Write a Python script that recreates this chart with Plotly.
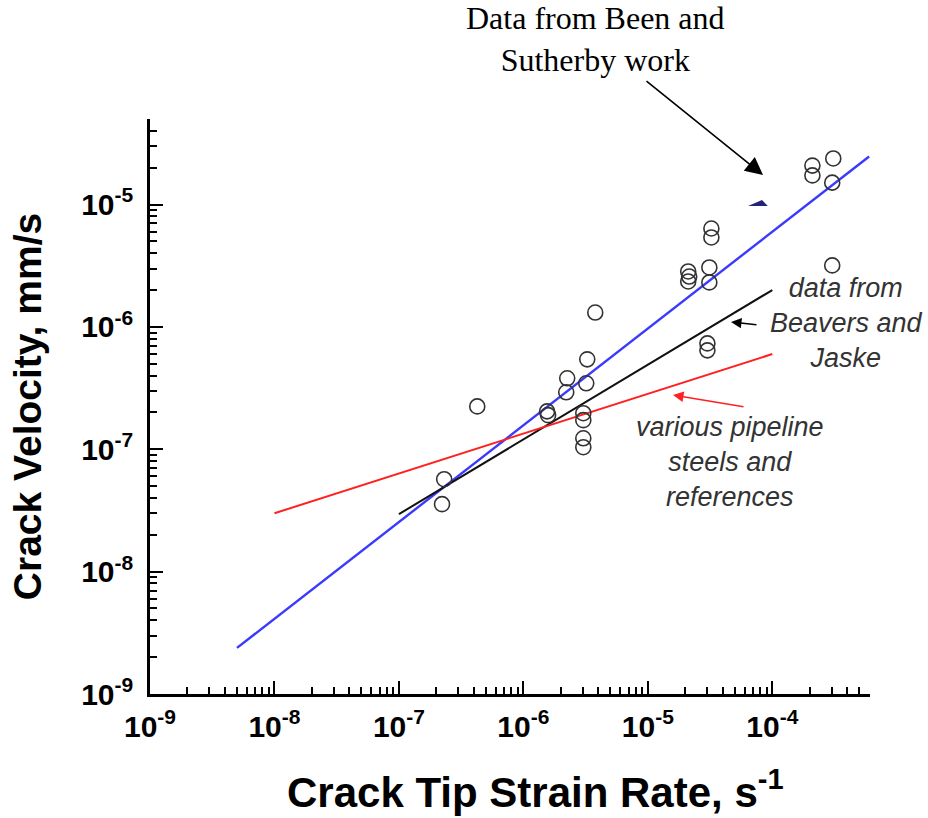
import plotly.graph_objects as go

# ---- data ----
strain_rate = [2.31e-7, 2.22e-7, 4.26e-7, 1.55e-6, 1.58e-6, 2.25e-6, 2.21e-6,
               3.26e-6, 3.20e-6, 3.03e-6, 3.03e-6, 3.03e-6, 3.03e-6, 3.78e-6,
               2.11e-5, 2.15e-5, 2.11e-5, 3.12e-5, 3.12e-5, 3.24e-5, 3.24e-5,
               3.01e-5, 3.01e-5, 2.10e-4, 2.10e-4, 3.09e-4, 3.03e-4, 3.03e-4]
crack_velocity = [5.69e-8, 3.56e-8, 2.24e-7, 2.04e-7, 1.90e-7, 3.80e-7, 2.92e-7,
                  5.43e-7, 3.46e-7, 1.97e-7, 1.73e-7, 1.23e-7, 1.04e-7, 1.31e-6,
                  2.84e-6, 2.58e-6, 2.35e-6, 3.06e-6, 2.31e-6, 6.37e-6, 5.38e-6,
                  7.33e-7, 6.43e-7, 2.08e-5, 1.73e-5, 2.38e-5, 1.51e-5, 3.18e-6]

been_fit_x = [5e-9, 6e-4]
been_fit_y = [2.38e-9, 2.47e-5]
beavers_x = [1e-7, 1e-4]
beavers_y = [2.95e-8, 2.0e-6]
pipeline_x = [1e-8, 1e-4]
pipeline_y = [3.0e-8, 6.0e-7]

x_major = [1e-9, 1e-8, 1e-7, 1e-6, 1e-5, 1e-4]
x_major_text = ["10<sup>-9</sup>", "10<sup>-8</sup>", "10<sup>-7</sup>",
                "10<sup>-6</sup>", "10<sup>-5</sup>", "10<sup>-4</sup>"]
y_major = [1e-9, 1e-8, 1e-7, 1e-6, 1e-5]
y_major_text = ["10<sup>-9</sup>", "10<sup>-8</sup>", "10<sup>-7</sup>",
                "10<sup>-6</sup>", "10<sup>-5</sup>"]

x_minor = [m * 10.0 ** e for e in range(-9, -3) for m in range(2, 10)]
y_minor = [m * 10.0 ** e for e in range(-9, -4) for m in range(2, 10)]

fig = go.Figure()

fig.add_trace(go.Scatter(x=been_fit_x, y=been_fit_y, mode="lines",
                         line=dict(color="#3a3aff", width=2.4), name="Been and Sutherby fit"))
fig.add_trace(go.Scatter(x=beavers_x, y=beavers_y, mode="lines",
                         line=dict(color="#111111", width=2), name="Beavers and Jaske"))
fig.add_trace(go.Scatter(x=pipeline_x, y=pipeline_y, mode="lines",
                         line=dict(color="#ff2020", width=2), name="various pipeline steels"))
fig.add_trace(go.Scatter(x=strain_rate, y=crack_velocity, mode="markers",
                         marker=dict(symbol="circle-open", size=15, color="#333333",
                                     line=dict(width=1.6)),
                         name="Been and Sutherby data"))

tickfont = dict(family="Liberation Sans, Arial, sans-serif", size=30, color="black", weight="bold")
titlefont = dict(family="Liberation Sans, Arial, sans-serif", size=39, color="black", weight="bold")

fig.update_xaxes(type="log", range=[-9, -3.215], showline=True, linewidth=2.5,
                 linecolor="black", showgrid=False, zeroline=False,
                 ticks="inside", ticklen=13, tickwidth=2, tickcolor="black",
                 tickmode="array", tickvals=x_major, ticktext=x_major_text,
                 tickfont=tickfont, ticklabelstandoff=4,
                 minor=dict(tickmode="array", tickvals=x_minor, ticks="inside",
                            ticklen=7, tickwidth=1.5, tickcolor="black", showgrid=False))
fig.update_yaxes(type="log", range=[-9, -4.301], showline=True, linewidth=2.5,
                 linecolor="black", showgrid=False, zeroline=False,
                 ticks="inside", ticklen=13, tickwidth=2, tickcolor="black",
                 tickmode="array", tickvals=y_major, ticktext=y_major_text,
                 tickfont=tickfont, ticklabelstandoff=8,
                 minor=dict(tickmode="array", tickvals=y_minor, ticks="inside",
                            ticklen=7, tickwidth=1.5, tickcolor="black", showgrid=False),
                 title=dict(text="Crack Velocity, mm/s", font=titlefont, standoff=28))

sans_it = dict(family="Liberation Sans, Arial, sans-serif", size=27, color="#333333", style="italic")

annotations = [
    dict(text="Crack Tip Strain Rate, s<sup><span style='font-size:29px'>-1</span></sup>",
         x=0.536, y=-0.1655, xref="paper", yref="paper", showarrow=False,
         xanchor="center", yanchor="middle",
         font=dict(family="Liberation Sans, Arial, sans-serif", size=42, color="black",
                   weight="bold")),
    dict(text="Data from Been and<br>Sutherby work", x=0.6194, y=1.14, xref="paper", yref="paper",
         showarrow=False, xanchor="center", yanchor="middle",
         font=dict(family="Liberation Serif, Times New Roman, serif", size=32, color="black")),
    dict(text="", x=0.8514, y=0.9026, xref="paper", yref="paper", showarrow=True,
         ax=-118, ay=-95, axref="pixel", ayref="pixel", arrowhead=2, arrowsize=2.2,
         arrowwidth=1.6, arrowcolor="black", standoff=0),
    dict(text="data from<br>Beavers and<br>Jaske", x=0.9667, y=0.645, xref="paper", yref="paper",
         showarrow=False, xanchor="center", yanchor="middle", font=sans_it),
    dict(text="", x=0.8069, y=0.647, xref="paper", yref="paper", showarrow=True,
         ax=27, ay=3, axref="pixel", ayref="pixel", arrowhead=2, arrowsize=1.4,
         arrowwidth=1.5, arrowcolor="black", standoff=0),
    dict(text="various pipeline<br>steels and<br>references", x=0.8049, y=0.4035,
         xref="paper", yref="paper", showarrow=False, xanchor="center", yanchor="middle",
         font=sans_it),
    dict(text="", x=0.7264, y=0.52, xref="paper", yref="paper", showarrow=True,
         ax=72, ay=12, axref="pixel", ayref="pixel", arrowhead=2, arrowsize=1.4,
         arrowwidth=1.5, arrowcolor="#ff2020", standoff=0),
]

shapes = [
    dict(type="path", xref="paper", yref="paper",
         path="M 0.8306 0.8487 L 0.858 0.8487 L 0.85 0.859 Z",
         fillcolor="#23237a", line=dict(width=0)),
]

fig.update_layout(width=928, height=818, margin=dict(l=150, r=58, t=119, b=124),
                  plot_bgcolor="white", paper_bgcolor="white", showlegend=False,
                  annotations=annotations, shapes=shapes)

fig.write_html("out.html")
